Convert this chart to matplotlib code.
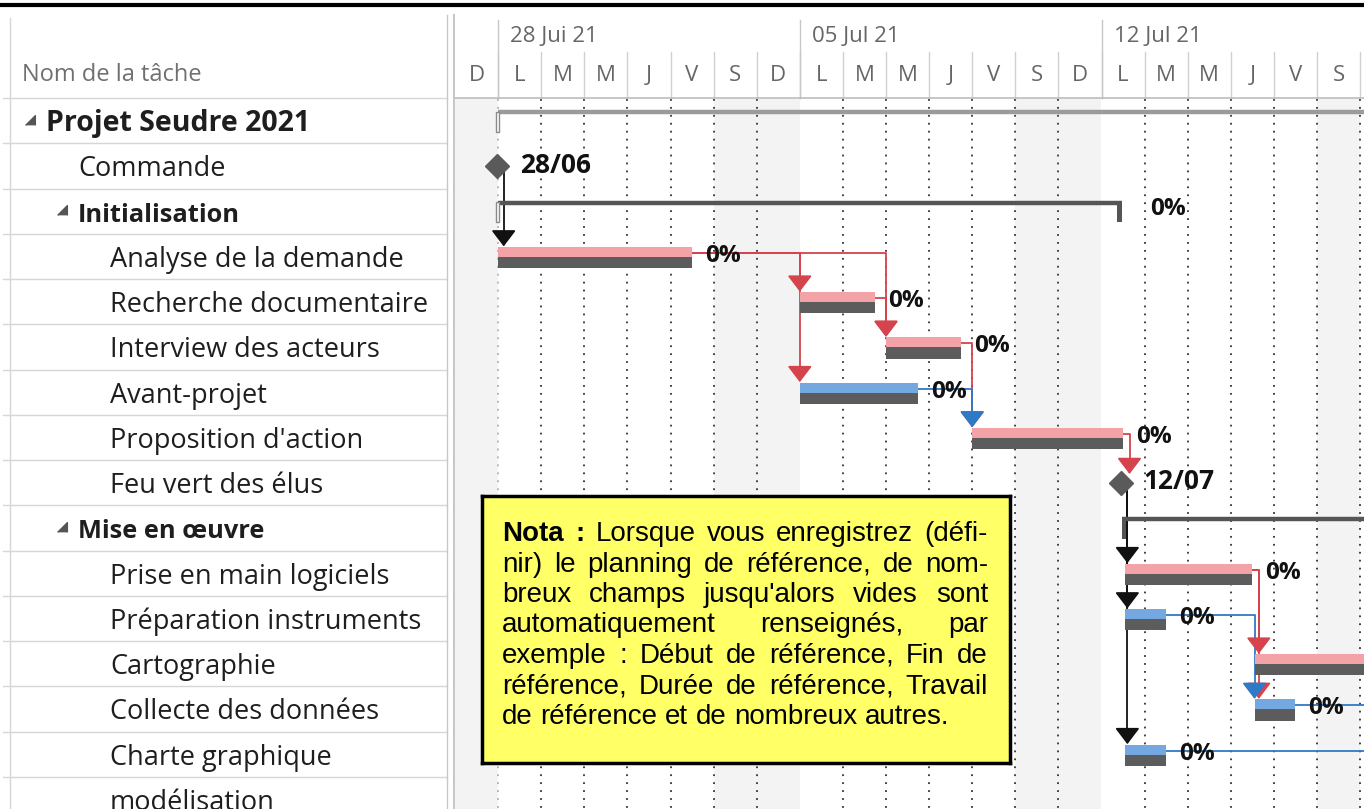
import numpy as np
import matplotlib.pyplot as plt
from matplotlib.patches import Rectangle
from matplotlib.lines import Line2D

# Données du planning (abscisses en jours depuis le dimanche 27/06/2021)
TACHES = ["Projet Seudre 2021", "Commande", "Initialisation", "Analyse de la demande",
          "Recherche documentaire", "Interview des acteurs", "Avant-projet",
          "Proposition d'action", "Feu vert des élus", "Mise en œuvre",
          "Prise en main logiciels", "Préparation instruments", "Cartographie",
          "Collecte des données", "Charte graphique", "modélisation"]
NIVEAU = [0, 1, 1, 2, 2, 2, 2, 2, 2, 1, 2, 2, 2, 2, 2, 2]
TYPE = ["resume", "jalon", "resume", "tache", "tache", "tache", "tache", "tache",
        "jalon", "resume", "tache", "tache", "tache", "tache", "tache", "tache"]
DEBUT = [1.0, 0.98, 1.0, 1.0, 8.0, 10.0, 8.0, 12.0, 15.45, 15.47,
         15.55, 15.55, 18.55, 18.55, 15.55, 22.6]
FIN = [23.0, 0.98, 15.47, 5.5, 9.75, 11.75, 10.75, 15.5, 15.45, 23.0,
       18.5, 16.5, 23.0, 19.5, 16.5, 24.0]
CRITIQUE = [False, False, False, True, True, True, False, True, False, False,
            True, False, True, False, False, False]
ETIQUETTE = ["", "28/06", "0%", "0%", "0%", "0%", "0%", "0%", "12/07", "",
             "0%", "0%", "", "0%", "0%", ""]
LIENS = [(1, 3), (3, 4), (3, 6), (3, 5), (4, 5), (5, 7), (6, 7), (7, 8),
         (8, 10), (8, 11), (8, 14), (10, 12), (10, 13), (11, 13), (13, 15), (14, 15)]
SEMAINES = ["28 Jui 21", "05 Jul 21", "12 Jul 21"]
DEBUT_SEMAINE = [1, 8, 15]
JOURS = ["D", "L", "M", "M", "J", "V", "S"] * 3

NOTE_LIGNES = ["Nota : Lorsque vous enregistrez (défi-",
               "nir) le planning de référence, de nom-",
               "breux champs jusqu'alors vides sont",
               "automatiquement renseignés, par",
               "exemple : Début de référence, Fin de",
               "référence, Durée de référence, Travail",
               "de référence et de nombreux autres."]

# Couleurs
ROSE = "#f3a2a8"
BLEU = "#75a8e0"
GRIS_BASE = "#5c5c5c"
ROUGE_LIEN = "#d5434c"
BLEU_LIEN = "#2f7ac6"

W, H = 1364, 809
fig = plt.figure(figsize=(W / 100, H / 100), dpi=100)
fig.patch.set_facecolor("white")

# lignes : limite k au pixel 98 + 45.25*k
PAS = 45.25
Y_HAUT = -98 / PAS
Y_BAS = (H - 98) / PAS
JOUR_PX = 43.1

def centre(i):
    return i + 0.5

# ---- tableau de gauche ----
ax_t = fig.add_axes([0, 0, 455 / W, 1])
ax_t.set_xlim(0, 455)
ax_t.set_ylim(Y_BAS, Y_HAUT)
ax_t.axis("off")

ax_t.text(22, -0.5, "Nom de la tâche", fontsize=17, family="Open Sans",
          color="#707070", va="center")
for k in range(len(TACHES)):
    ax_t.plot([3, 447], [k, k], color="#d6d6d6", lw=1)
ax_t.plot([10, 10], [(18 - 98) / PAS, Y_BAS], color="#d6d6d6", lw=1)
ax_t.plot([447, 447], [(15 - 98) / PAS, Y_BAS], color="#c8c8c8", lw=1)
ax_t.plot([454, 454], [(15 - 98) / PAS, Y_BAS], color="#c8c8c8", lw=1.5)

INDENT = {0: 46, 1: 78, 2: 110}
TAILLE_NOM = {0: 20.5, 1: 18.3}
for i, nom in enumerate(TACHES):
    gras = TYPE[i] == "resume"
    ax_t.text(INDENT[NIVEAU[i]], centre(i) + 0.23, nom,
              fontsize=TAILLE_NOM[NIVEAU[i]] if gras else 19.5,
              family="Open Sans", weight="bold" if gras else "normal",
              color="#1e1e1e", va="baseline")
    if gras:
        ax_t.plot(INDENT[NIVEAU[i]] - 16, centre(i) - 0.02,
                  marker=[(0.5, -0.5), (0.5, 0.5), (-0.5, -0.5)],
                  ms=7, color="#555555")

# ---- diagramme de Gantt ----
ax_g = fig.add_axes([455 / W, 0, (W - 455) / W, 1])
ax_g.set_xlim(0, (W - 455) / JOUR_PX)
ax_g.set_ylim(Y_BAS, Y_HAUT)
ax_g.axis("off")

# en-tête
for k, j in enumerate(JOURS):
    ax_g.text(k + 0.5, -0.5, j, fontsize=16, family="Open Sans", color="#666666",
              ha="center", va="center", clip_on=True)
    if k > 0:
        ax_g.plot([k, k], [(52 - 98) / PAS, 0], color="#d0d0d0", lw=1)
ax_g.plot([21, 21], [(52 - 98) / PAS, 0], color="#d0d0d0", lw=1)
for s, d in zip(SEMAINES, DEBUT_SEMAINE):
    ax_g.plot([d, d], [(20 - 98) / PAS, 0], color="#c8c8c8", lw=1)
    ax_g.text(d + 0.28, -1.35, s, fontsize=16, family="Open Sans", color="#666666",
              va="center")
ax_g.plot([0, 22], [0, 0], color="#bdbdbd", lw=1.2)

# week-ends grisés
for k, j in enumerate(JOURS):
    if j in ("S", "D"):
        ax_g.add_patch(Rectangle((k, 0), 1, Y_BAS, color="#f3f3f3", lw=0, zorder=0))

# quadrillage pointillé
for k in range(1, len(JOURS) + 1):
    if k in DEBUT_SEMAINE[1:]:
        continue
    coul = "#b0b0b0" if k == 1 else "#333333"
    ax_g.plot([k, k], [0.03, Y_BAS], color=coul, lw=1.3,
              linestyle=(0, (1, 3.4)), zorder=1)

# barres
for i in range(len(TACHES)):
    c = centre(i)
    if TYPE[i] == "tache":
        ax_g.add_patch(Rectangle((DEBUT[i], c - 0.21), FIN[i] - DEBUT[i], 0.22,
                                 color=ROSE if CRITIQUE[i] else BLEU, lw=0, zorder=3))
        ax_g.add_patch(Rectangle((DEBUT[i], c + 0.01), FIN[i] - DEBUT[i], 0.25,
                                 color=GRIS_BASE, lw=0, zorder=3))
        if ETIQUETTE[i]:
            ax_g.text(FIN[i] + 0.3, c + 0.12, ETIQUETTE[i], fontsize=17.5,
                      family="Open Sans", weight="bold", color="#111111",
                      va="baseline", zorder=4, clip_on=True)
    elif TYPE[i] == "jalon":
        ax_g.plot(DEBUT[i], c, marker="D", ms=12, color="#5a5a5a", zorder=4)
        ax_g.text(DEBUT[i] + 0.53, c + 0.15, ETIQUETTE[i], fontsize=19,
                  family="Open Sans", weight="bold", color="#111111",
                  va="baseline", zorder=4)
    else:
        coul = "#9b9b9b" if NIVEAU[i] == 0 else "#555555"
        ax_g.plot([DEBUT[i], FIN[i]], [c - 0.19, c - 0.19], color=coul, lw=3.2,
                  solid_capstyle="butt", zorder=3)
        if DEBUT[i] <= 1.0:
            ax_g.add_patch(Rectangle((DEBUT[i] - 0.04, c - 0.2), 0.07, 0.45,
                                     facecolor="white", edgecolor="#8a8a8a",
                                     lw=1, zorder=3))
        else:
            ax_g.add_patch(Rectangle((DEBUT[i], c - 0.2), 0.11, 0.45,
                                     color="#555555", lw=0, zorder=3))
        if FIN[i] < 21:
            ax_g.add_patch(Rectangle((FIN[i] - 0.11, c - 0.2), 0.11, 0.45,
                                     color="#555555", lw=0, zorder=3))
        if ETIQUETTE[i]:
            ax_g.text(FIN[i] + 0.65, c + 0.08, ETIQUETTE[i], fontsize=17.5,
                      family="Open Sans", weight="bold", color="#111111",
                      va="baseline", zorder=4, clip_on=True)

# liens entre tâches
for p, s in LIENS:
    if TYPE[p] == "jalon":
        coul = "#111111"
        y_p = centre(p)
    else:
        coul = ROUGE_LIEN if CRITIQUE[p] else BLEU_LIEN
        y_p = centre(p) - 0.08
    x_r = max(FIN[p] + 0.15, DEBUT[s])
    y_s = centre(s) - (0.19 if TYPE[s] == "jalon" else 0.22)
    ax_g.plot([FIN[p], x_r, x_r], [y_p, y_p, y_s - 0.1], color=coul, lw=1.3,
              zorder=2)
    ax_g.annotate("", xy=(x_r, y_s), xytext=(x_r, y_s - 0.3),
                  arrowprops=dict(arrowstyle="-|>,head_length=0.5,head_width=0.38",
                                  color=coul, lw=1.3, shrinkA=0, shrinkB=0,
                                  mutation_scale=20),
                  zorder=5, annotation_clip=True)

# trait noir en haut
fig.add_artist(Line2D([0, 1], [1 - 5 / H, 1 - 5 / H], color="black", lw=3,
                      transform=fig.transFigure))

# ---- encadré jaune ----
bx0, by0, bx1, by1 = 482, 496, 1010, 763
ax_n = fig.add_axes([bx0 / W, 1 - by1 / H, (bx1 - bx0) / W, (by1 - by0) / H])
ax_n.set_xlim(0, bx1 - bx0)
ax_n.set_ylim(by1 - by0, 0)
ax_n.set_facecolor("#ffff66")
ax_n.set_xticks([])
ax_n.set_yticks([])
for sp in ax_n.spines.values():
    sp.set_linewidth(2.5)
    sp.set_color("black")

renderer = fig.canvas.get_renderer()
taille = 20
gauche, droite = 20, 506
for i, ligne in enumerate(NOTE_LIGNES):
    mots = ligne.split()
    objs = []
    for j, m in enumerate(mots):
        gras = i == 0 and j < 2
        objs.append(ax_n.text(0, 45 + 30.5 * i, m, fontsize=taille,
                              family="Liberation Sans",
                              weight="bold" if gras else "normal",
                              color="black", va="baseline"))
    largeurs = [t.get_window_extent(renderer).width for t in objs]
    if i < len(NOTE_LIGNES) - 1:
        ecart = (droite - gauche - sum(largeurs)) / (len(objs) - 1)
    else:
        ecart = 0.278 * taille * 100 / 72
    x = gauche
    for t, w in zip(objs, largeurs):
        t.set_x(x)
        x += w + ecart

fig.savefig("out.png", dpi=100)
